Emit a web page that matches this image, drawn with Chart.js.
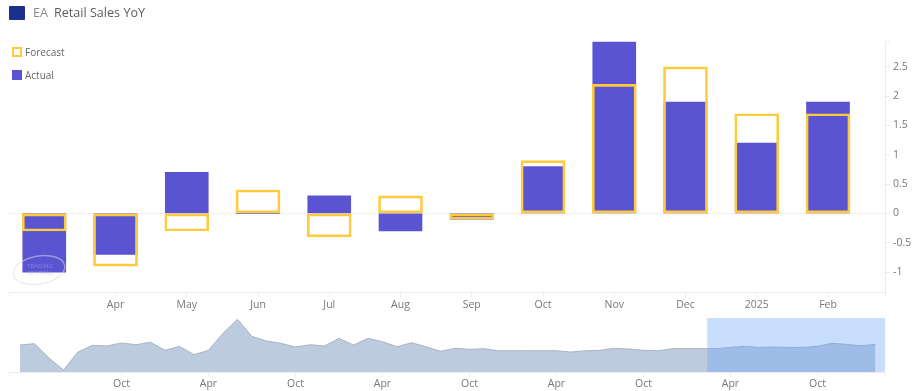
<!DOCTYPE html>
<html>
<head>
<meta charset="utf-8">
<script src="https://cdn.jsdelivr.net/npm/chart.js@4"></script>
<style>
html,body{margin:0;padding:0;background:#fff;width:914px;height:391px;overflow:hidden;font-family:"Open Sans",sans-serif}
canvas{position:absolute;left:0;top:0}
.t{position:absolute;white-space:nowrap;line-height:1}
.flag{position:absolute;left:9px;top:6px;width:16px;height:14px;background:#1c2f8f;border-radius:1px}
.sw{position:absolute;box-sizing:border-box;width:10px;height:10px}
.wm{position:absolute;left:13px;top:252px;width:53px;height:35px;pointer-events:none;opacity:.5}
</style>
</head>
<body>
<canvas id="main" width="914" height="320"></canvas>
<canvas id="nav" width="914" height="391"></canvas>
<div class="flag"></div>
<div class="t" style="left:33px;top:7px;font-size:12.6px;color:#8a8a8a">EA</div>
<div class="t" style="left:54px;top:7px;font-size:12.6px;color:#5c5c5c">Retail Sales YoY</div>
<div class="sw" style="left:12px;top:47px;border:2px solid #ffcb3d"></div>
<div class="t" style="left:25px;top:47px;font-size:10px;color:#666">Forecast</div>
<div class="sw" style="left:12px;top:70px;background:#5a53d2"></div>
<div class="t" style="left:25px;top:70px;font-size:10px;color:#666">Actual</div>
<svg class="wm" viewBox="0 0 53 35">
<ellipse cx="26" cy="18" rx="26" ry="14" fill="none" stroke="#d8dbe0" stroke-width="1.5" transform="rotate(-10 26 18)"/>
<text x="27" y="16" text-anchor="middle" font-size="6" fill="#b8bcc8" font-family="Open Sans">TRADING</text>
<text x="27" y="23" text-anchor="middle" font-size="6" fill="#b8bcc8" font-family="Open Sans">CENTRAL</text>
</svg>
<script>
const categories = ["Mar","Apr","May","Jun","Jul","Aug","Sep","Oct","Nov","Dec","2025","Feb"];
const actual   = [-1.0,-0.7,0.7,0.0,0.3,-0.3,-0.1,0.8,2.92,1.9,1.2,1.9];
const forecast = [-0.3,-0.9,-0.3,0.4,-0.4,0.3,-0.1,0.9,2.2,2.5,1.7,1.7];
const yTicks = [-1,-0.5,0,0.5,1,1.5,2,2.5];
const historyValues = [3.4,4.6,-7.8,-18.1,-2.6,3.2,2.6,5.2,3.7,5.8,-1.1,2.3,-4.9,-1.1,13.5,25.6,10.9,6.9,4.9,1.7,
  3.7,2.6,9.2,3.4,9.2,6.3,2.0,5.4,2.0,-2.0,0.6,-0.3,0.3,-1.5,-1.5,-1.5,-1.5,-1.5,-2.6,-1.5,
  -1.1,0.6,0,-1.1,-1.5,0.3,0.3,0.3,0.3,1.4,2.3,1.4,1.7,1.4,1.4,2.3,4.9,4.0,2.8,4.0];
const navTickIndex = [7,13,19,25,31,37,43,49,55];
const navTickLabels = ["Oct","Apr","Oct","Apr","Oct","Apr","Oct","Apr","Oct"];
const selectionStart = 47.4;

const FONT = {family:'"Open Sans",sans-serif', size:10.5};
const TICK = '#777777', AXIS = '#ececec';
Chart.defaults.font.family = FONT.family;
Chart.defaults.animation = false;
Chart.defaults.responsive = false;

const xMin = -0.495, xMax = 11.8, yMin = -1.34, yMax = 2.94;
const toPts = a => a.map((y,x)=>({x,y}));

new Chart(document.getElementById('main'),{
  type:'bar',
  data:{datasets:[
    {label:'Forecast',data:toPts(forecast),backgroundColor:'rgba(0,0,0,0)',borderColor:'#ffcb3d',borderWidth:2,borderSkipped:false,grouped:false,barThickness:44,order:1},
    {label:'Actual',data:toPts(actual),backgroundColor:'#5a53d2',borderWidth:0,grouped:false,barThickness:43,order:2}
  ]},
  options:{
    layout:{padding:{left:9,top:41,right:0,bottom:0}},
    plugins:{legend:{display:false},tooltip:{enabled:false}},
    scales:{
      x:{type:'linear',min:xMin,max:xMax,offset:false,
        border:{color:AXIS,width:1},
        grid:{offset:false,drawOnChartArea:false,color:AXIS,tickLength:5},
        afterBuildTicks:s=>{s.ticks=[{value:xMin}].concat(categories.slice(1).map((c,i)=>({value:i+1})),[{value:xMax}]);},
        afterFit:s=>{s.height=28;},
        ticks:{color:TICK,font:FONT,maxRotation:0,autoSkip:false,padding:2,
          callback:v=>Number.isInteger(v)?categories[v]:''}
      },
      y:{position:'right',min:yMin,max:yMax,
        border:{color:AXIS,width:1},
        grid:{color:c=>c.tick.value===0?'#f0f0f0':'rgba(0,0,0,0)',tickColor:AXIS,tickLength:5},
        afterBuildTicks:s=>{s.ticks=yTicks.map(value=>({value})).concat([{value:yMax}]);},
        afterFit:s=>{s.width=29;},
        ticks:{color:TICK,font:FONT,autoSkip:false,padding:3,
          callback:v=>yTicks.includes(v)?String(v):''}
      }
    }
  }
});

const selectionBand = {
  id:'selectionBand',
  afterDatasetsDraw(c){
    const {ctx,chartArea:a,scales:{x}} = c;
    const l = x.getPixelForValue(selectionStart);
    ctx.save();
    ctx.fillStyle='rgba(100,160,250,0.35)';
    ctx.fillRect(l,a.top,a.right-l,a.bottom-a.top);
    ctx.restore();
  }
};
const nxMin = -0.757, nxMax = 59.66;
new Chart(document.getElementById('nav'),{
  type:'line',
  data:{datasets:[{data:toPts(historyValues),borderColor:'#a9b4c3',borderWidth:1,backgroundColor:'#bccbdd',fill:'start',pointRadius:0,tension:0}]},
  plugins:[selectionBand],
  options:{
    layout:{padding:{left:9,top:318,right:29,bottom:0}},
    plugins:{legend:{display:false},tooltip:{enabled:false}},
    scales:{
      x:{type:'linear',min:nxMin,max:nxMax,
        border:{color:AXIS,width:1},
        grid:{drawOnChartArea:false,color:AXIS,tickLength:5},
        afterBuildTicks:s=>{s.ticks=[{value:nxMin}].concat(navTickIndex.map(value=>({value})),[{value:nxMax}]);},
        afterFit:s=>{s.height=19;},
        ticks:{color:TICK,font:FONT,maxRotation:0,autoSkip:false,padding:1,
          callback:v=>{const i=navTickIndex.indexOf(v);return i<0?'':navTickLabels[i];}}
      },
      y:{display:false,min:-19.8,max:26.7}
    }
  }
});
</script>
</body>
</html>
